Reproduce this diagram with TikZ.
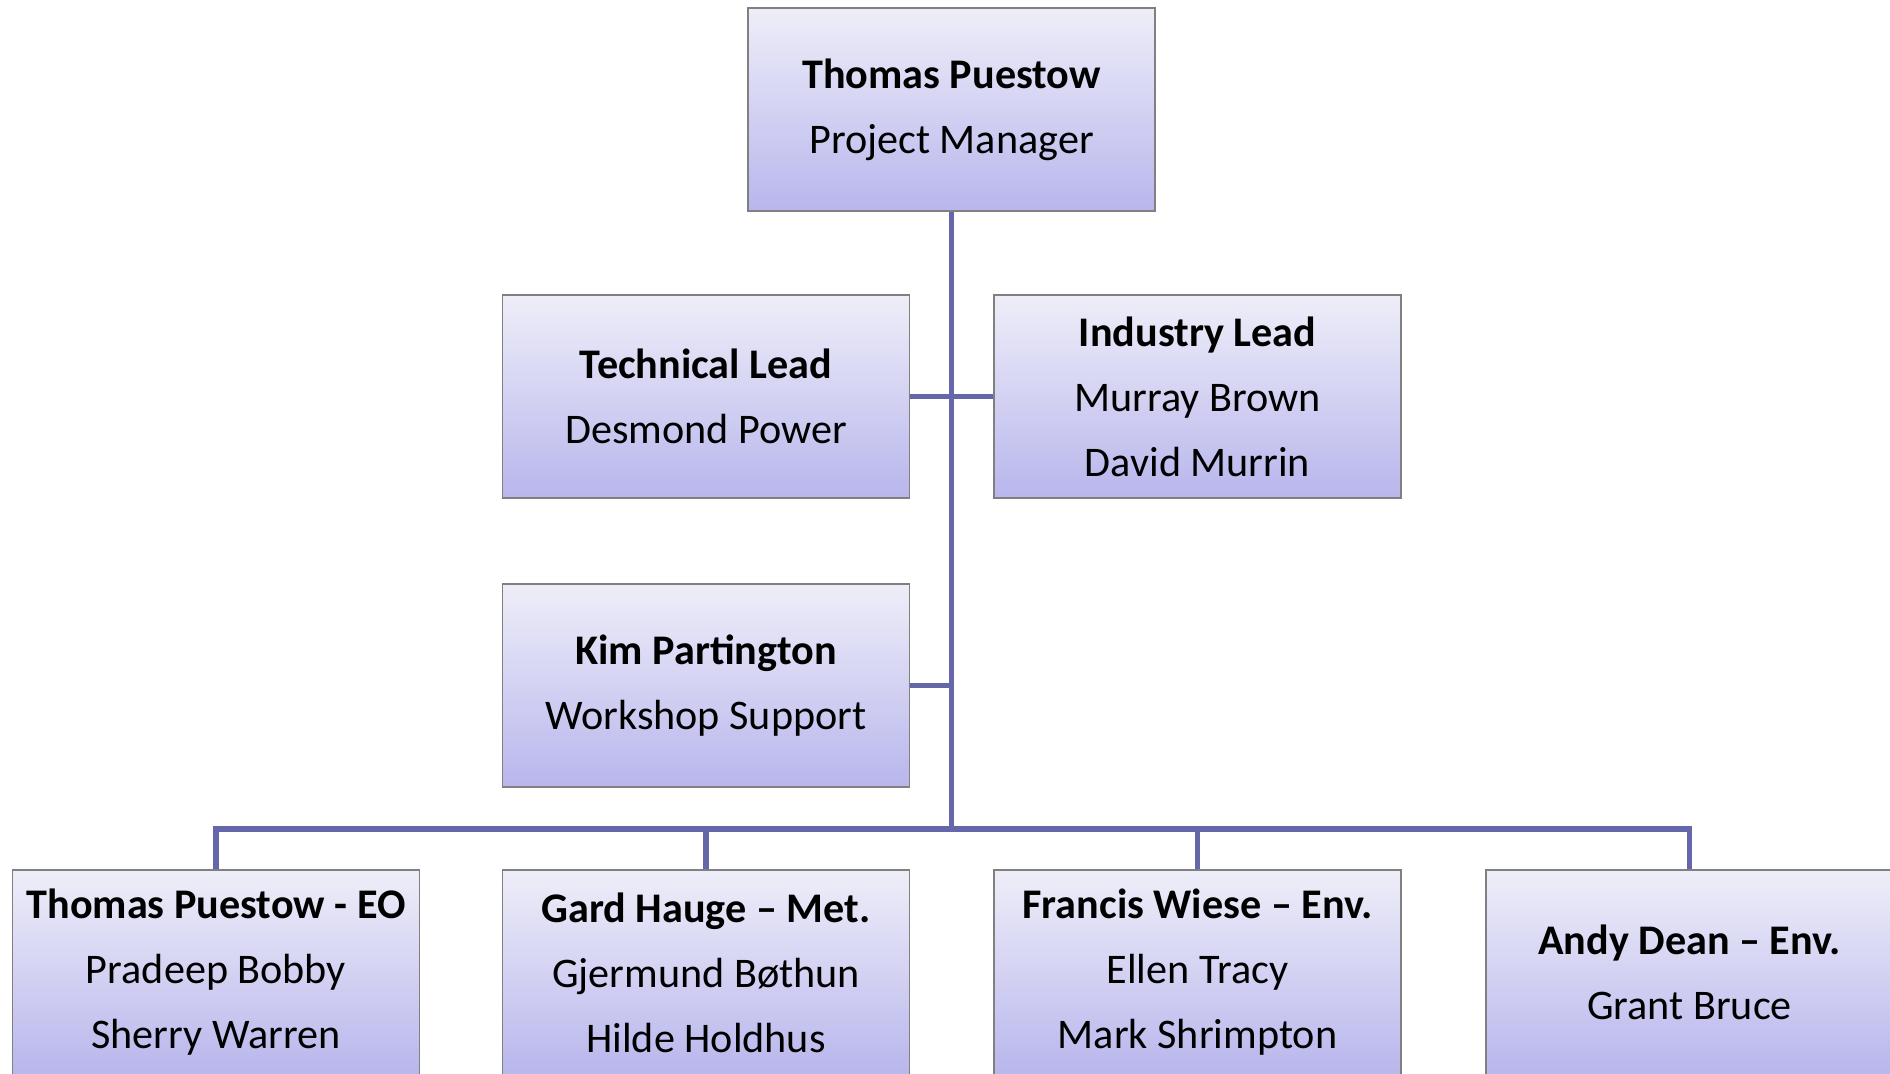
\documentclass[tikz,border=0pt]{standalone}
\usepackage{fontspec}
\setmainfont{Carlito}
\usepackage{xcolor}
\usepackage{tikz}
\usetikzlibrary{positioning}
\definecolor{orgline}{HTML}{6666AA}
\definecolor{orgtop}{HTML}{EEEEF9}
\definecolor{orgbottom}{HTML}{B8B6EC}
\definecolor{orgborder}{HTML}{808080}

\begin{document}
\begin{tikzpicture}[x=0.1mm, y=-0.1mm, font=\fontsize{12}{18.5}\selectfont]

\useasboundingbox (0,0) rectangle (1890,1073);

% Styles
\tikzset{
  orgbox/.style={draw=orgborder, line width=0.5pt, top color=orgtop, bottom color=orgbottom,
    minimum width=40.7mm, minimum height=20.3mm, align=center, inner sep=0pt},
  link/.style={orgline, line width=1.6pt}
}

% Management
\node[orgbox] (pm) at (951.5, 109.5) {\textbf{Thomas Puestow}\\Project Manager};
\node[orgbox] (tech) at (706, 396.5) {\textbf{Technical Lead}\\Desmond Power};
\node[orgbox] (ind) at (1197.5, 396.5) {\textbf{Industry Lead}\\Murray Brown\\David Murrin};
\node[orgbox] (kim) at (706, 685.5) {\textbf{Kim Partington}\\Workshop Support};

% Work packages
\node[orgbox, minimum height=20.5mm] (eo) at (216, 972.5) {\textbf{Thomas Puestow - EO}\\Pradeep Bobby\\Sherry Warren};
\node[orgbox, minimum height=20.5mm] (met) at (706, 972.5) {\textbf{Gard Hauge -- Met.}\\Gjermund Bøthun\\Hilde Holdhus};
\node[orgbox, minimum height=20.5mm] (envf) at (1197.5, 972.5) {\textbf{Francis Wiese -- Env.}\\Ellen Tracy\\Mark Shrimpton};
\node[orgbox, minimum height=20.5mm] (enva) at (1689.5, 972.5) {\textbf{Andy Dean -- Env.}\\Grant Bruce};

% Connectors
\coordinate (hub) at (951.5, 829);
\draw[link] (pm.south) -- (hub);
\draw[link] (tech.east) -- (tech.east -| hub);
\draw[link] (ind.west) -- (ind.west -| hub);
\draw[link] (kim.east) -- (kim.east -| hub);
\foreach \wp in {eo, met, envf, enva} {
    \draw[link] (\wp.north) |- (hub);
}

\end{tikzpicture}
\end{document}
